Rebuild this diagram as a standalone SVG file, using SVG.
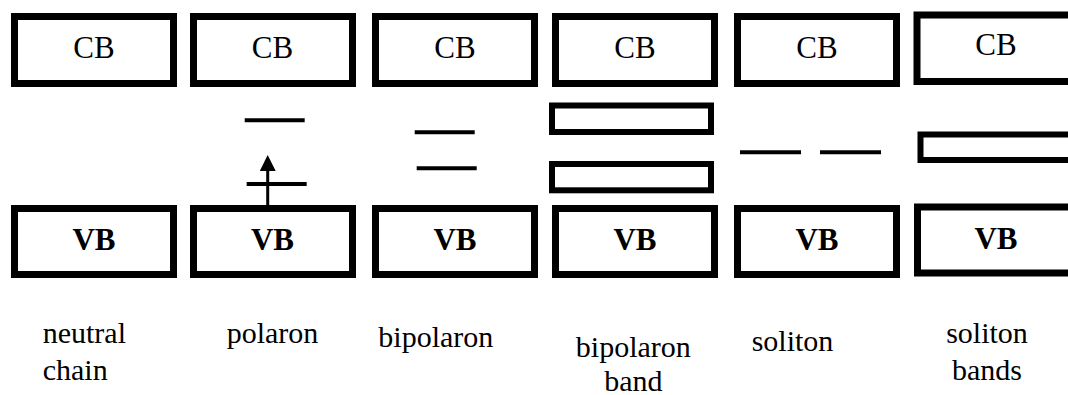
<svg xmlns="http://www.w3.org/2000/svg" width="1068" height="395" viewBox="0 0 1068 395">
<style>
.band{fill:#fff;stroke:#000;stroke-width:7}
.sub{fill:#fff;stroke:#000;stroke-width:6}
.lvl{stroke:#000;stroke-width:4;fill:none}
.t{font-family:"Liberation Serif","Times New Roman","DejaVu Serif","Noto Serif",serif;font-size:31px;fill:#000;text-anchor:middle}
.b{font-weight:bold}
.lab{font-family:"Liberation Serif","Times New Roman","DejaVu Serif","Noto Serif",serif;font-size:30px;fill:#000}
</style>
<defs>
<marker id="ah" viewBox="0 0 16 16" refX="6" refY="8" markerWidth="16" markerHeight="16" markerUnits="userSpaceOnUse" orient="auto">
<path d="M0,0 L16,8 L0,16 Z" fill="#000"/>
</marker>
</defs>
<rect width="1068" height="395" fill="#fff"/>
<g id="neutral-chain">
<rect class="band" x="14.5" y="16.5" width="159" height="67"/>
<text class="t" x="94" y="58">CB</text>
<rect class="band" x="14.5" y="208.5" width="159" height="66"/>
<text class="t b" x="94" y="250">VB</text>
<text class="lab" x="42.7" y="343">neutral</text>
<text class="lab" x="42.7" y="380">chain</text>
</g>
<g id="polaron">
<rect class="band" x="193.5" y="16.5" width="159" height="67"/>
<text class="t" x="272.5" y="58">CB</text>
<rect class="band" x="193.5" y="208.5" width="159" height="66"/>
<text class="t b" x="272.5" y="250">VB</text>
<line class="lvl" x1="244.7" y1="120.3" x2="304.7" y2="120.3"/>
<line class="lvl" x1="246.7" y1="184" x2="306.7" y2="184"/>
<text class="lab" x="226.7" y="343">polaron</text>
</g>
<g id="bipolaron">
<rect class="band" x="375.5" y="16.5" width="159" height="67"/>
<text class="t" x="455" y="58">CB</text>
<rect class="band" x="375.5" y="208.5" width="159" height="66"/>
<text class="t b" x="455" y="250">VB</text>
<line class="lvl" x1="414.7" y1="132.3" x2="474.7" y2="132.3"/>
<line class="lvl" x1="416.7" y1="168.3" x2="476.7" y2="168.3"/>
<text class="lab" x="378.3" y="346.7">bipolaron</text>
</g>
<g id="bipolaron-band">
<rect class="band" x="555.5" y="16.5" width="159" height="67"/>
<text class="t" x="635" y="58">CB</text>
<rect class="band" x="555.5" y="208.5" width="159" height="66"/>
<text class="t b" x="635" y="250">VB</text>
<rect class="sub" x="552" y="105.5" width="159" height="26.5"/>
<rect class="sub" x="552" y="164" width="159" height="26.3"/>
<text class="lab" x="633.3" y="356.7" text-anchor="middle">bipolaron</text>
<text class="lab" x="633.3" y="391" text-anchor="middle">band</text>
</g>
<g id="soliton">
<rect class="band" x="737.5" y="16.5" width="159" height="67"/>
<text class="t" x="817" y="58">CB</text>
<rect class="band" x="737.5" y="208.5" width="159" height="66"/>
<text class="t b" x="817" y="250">VB</text>
<line class="lvl" x1="740" y1="152.3" x2="801" y2="152.3"/>
<line class="lvl" x1="820" y1="152.3" x2="881" y2="152.3"/>
<text class="lab" x="751.7" y="350.5">soliton</text>
</g>
<g id="soliton-bands">
<rect class="band" x="917" y="15" width="170" height="66.5"/>
<text class="t" x="996" y="55">CB</text>
<rect class="band" x="917.5" y="207" width="170" height="66"/>
<text class="t b" x="996" y="249">VB</text>
<rect class="sub" x="920.5" y="134.5" width="170" height="25.5"/>
<text class="lab" x="987" y="343.3" text-anchor="middle">soliton</text>
<text class="lab" x="987" y="380" text-anchor="middle">bands</text>
</g>
<g id="connectors">
<line x1="267.7" y1="205" x2="267.7" y2="165" stroke="#000" stroke-width="3" marker-end="url(#ah)"/>
</g>
</svg>
